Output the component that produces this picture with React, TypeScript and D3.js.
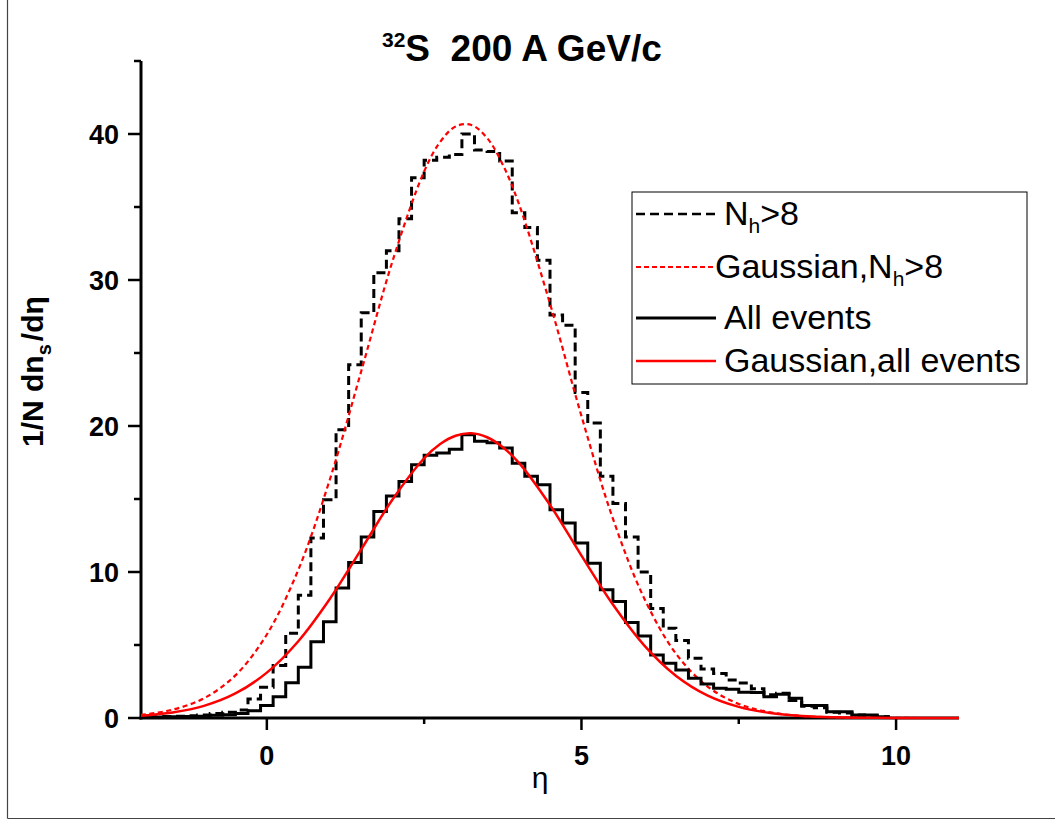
import React from 'react';
import * as d3 from 'd3';

// Histogram bins: left edge of first bin and bin width (eta units)
const binStart = -2.1;
const binWidth = 0.2;

// All events histogram (1/N dn_s/deta), bins centred at -2.0, -1.8, ..., 9.8
const allEvents = [
  0.04, 0.05, 0.06, 0.08, 0.1, 0.12, 0.18, 0.22, 0.3, 0.5,
  0.85, 1.46, 2.42, 3.48, 5.23, 6.6, 8.9, 10.65, 12.4, 14.15,
  15.2, 16.2, 17.35, 18.0, 18.15, 18.4, 19.4, 18.95, 18.85, 18.5,
  17.45, 16.55, 15.98, 14.27, 13.35, 11.98, 10.6, 8.78, 7.98, 6.54,
  5.62, 4.32, 3.75, 3.29, 2.72, 2.33, 2.04, 1.97, 1.76, 1.74,
  1.46, 1.62, 1.35, 0.85, 0.85, 0.43, 0.43, 0.2, 0.2, 0.08,
];

// N_h > 8 histogram, same bins
const nhGt8 = [
  0.07, 0.08, 0.1, 0.12, 0.15, 0.2, 0.3, 0.4, 0.55, 1.3,
  2.1, 3.6, 5.8, 8.4, 12.33, 14.95, 19.75, 24.2, 27.75, 30.5,
  32.0, 34.2, 37.0, 38.2, 38.4, 38.6, 40.0, 38.9, 38.8, 38.15,
  34.6, 33.6, 31.35, 27.6, 26.9, 22.3, 20.2, 16.55, 14.7, 12.4,
  10.0, 7.5, 6.15, 5.3, 4.1, 3.35, 3.05, 2.6, 2.4, 2.0,
  1.6, 1.7, 1.2, 0.8, 0.7, 0.4, 0.35, 0.2, 0.15, 0.08,
];

// Gaussian fit curves, read at these eta positions
const fitEta = [-2, -1.5, -1, -0.5, 0, 0.5, 1, 1.5, 2, 2.5, 2.75, 3, 3.25, 3.5, 3.75, 4, 4.5, 5, 5.5, 6, 6.5, 7, 7.5, 8, 8.5, 9, 9.5, 10, 10.5, 11];
const fitAll = [0.16, 0.38, 0.83, 1.68, 3.11, 5.26, 8.15, 11.55, 14.98, 17.79, 18.75, 19.33, 19.5, 19.23, 18.55, 17.51, 14.59, 11.12, 7.77, 4.96, 2.9, 1.55, 0.76, 0.34, 0.14, 0.05, 0.02, 0.006, 0.002, 0.0005];
const fitNh = [0.21, 0.57, 1.35, 2.92, 5.72, 10.15, 16.32, 23.75, 31.33, 37.44, 39.43, 40.52, 40.62, 39.73, 37.9, 35.28, 28.38, 20.68, 13.65, 8.17, 4.42, 2.17, 0.96, 0.39, 0.14, 0.05, 0.015, 0.004, 0.001, 0.0002];

const xMajorTicks = [0, 5, 10];
const xMinorTicks = [2.5, 7.5];
const yMajorTicks = [0, 10, 20, 30, 40];
const yMinorTicks = [5, 15, 25, 35, 45];

const W = 1055;
const H = 821;
const FONT = "'Liberation Sans', Arial, Helvetica, sans-serif";

export default function App() {
  const x = d3.scaleLinear().domain([-2, 11]).range([141, 959]);
  const y = d3.scaleLinear().domain([0, 45]).range([718, 61]);

  const stepPath = (vals: number[]) => {
    const pts: [number, number][] = vals.map((v, i) => [binStart + i * binWidth, v]);
    pts.push([binStart + vals.length * binWidth, vals[vals.length - 1]]);
    return d3
      .line<[number, number]>()
      .x((d) => x(d[0]))
      .y((d) => y(d[1]))
      .curve(d3.curveStepAfter)(pts) as string;
  };

  const fitPath = (vals: number[]) =>
    d3
      .line<number>()
      .x((_, i) => x(fitEta[i]))
      .y((d) => y(d))
      .curve(d3.curveCatmullRom.alpha(0.5))(vals) as string;

  const x0 = x(-2);
  const x1 = x(11);
  const y0 = y(0);
  const yTop = y(45);

  const legendItems = [
    { kind: 'nh', stroke: '#000', dash: '9,5', width: 2.5, textX: 724, lineY: 214, label: 'nh' },
    { kind: 'gnh', stroke: '#ff0000', dash: '5,3', width: 2, textX: 715, lineY: 267, label: 'gnh' },
    { kind: 'all', stroke: '#000', dash: undefined, width: 3, textX: 724, lineY: 318, label: 'All events' },
    { kind: 'gall', stroke: '#ff0000', dash: undefined, width: 2.5, textX: 724, lineY: 361, label: 'Gaussian,all events' },
  ];

  const LF = 34;

  return (
    <svg
      width={W}
      height={H}
      style={{ position: 'absolute', left: 0, top: 0, background: '#fff' }}
      fontFamily={FONT}
    >
      <defs>
        <clipPath id="plotClip">
          <rect x={x0} y={40} width={x1 - x0 + 2} height={y0 - 40 + 3} />
        </clipPath>
      </defs>
      <rect x={0} y={0} width={W} height={H} fill="#fff" />
      {/* outer frame (left and bottom visible) */}
      <line x1={7.5} y1={0} x2={7.5} y2={818.5} stroke="#444" strokeWidth={1.2} />
      <line x1={7.5} y1={818.5} x2={W} y2={818.5} stroke="#444" strokeWidth={1.2} />

      {/* title */}
      <text x={382} y={61} fontWeight="bold" fontSize={37} style={{ whiteSpace: 'pre' }} fill="#000">
        <tspan fontSize={21} dy={-14}>32</tspan>
        <tspan dy={14}>S  200 A GeV/c</tspan>
      </text>

      {/* axes */}
      <line x1={x0} y1={yTop} x2={x0} y2={y0 + 1.5} stroke="#000" strokeWidth={3} />
      <line x1={x0 - 1.5} y1={y0} x2={x1} y2={y0} stroke="#000" strokeWidth={3} />
      {yMajorTicks.map((t) => (
        <g key={'ym' + t}>
          <line x1={x0 - 13} x2={x0} y1={y(t)} y2={y(t)} stroke="#000" strokeWidth={2.5} />
          <text x={x0 - 22} y={y(t)} dy="0.36em" textAnchor="end" fontWeight="bold" fontSize={27}>
            {t}
          </text>
        </g>
      ))}
      {yMinorTicks.map((t) => (
        <line key={'yn' + t} x1={x0 - 7} x2={x0} y1={y(t)} y2={y(t)} stroke="#000" strokeWidth={2.5} />
      ))}
      {xMajorTicks.map((t) => (
        <g key={'xm' + t}>
          <line x1={x(t)} x2={x(t)} y1={y0} y2={y0 + 12} stroke="#000" strokeWidth={2.5} />
          <text x={x(t)} y={765} textAnchor="middle" fontWeight="bold" fontSize={27}>
            {t}
          </text>
        </g>
      ))}
      {xMinorTicks.map((t) => (
        <line key={'xn' + t} x1={x(t)} x2={x(t)} y1={y0} y2={y0 + 6} stroke="#000" strokeWidth={2.5} />
      ))}

      {/* axis titles */}
      <text x={540} y={788} textAnchor="middle" fontSize={30}>
        η
      </text>
      <text transform="translate(43,447) rotate(-90)" fontWeight="bold" fontSize={30}>
        1/N dn
        <tspan fontSize={20} dy={8}>s</tspan>
        <tspan dy={-8} dx={3}>/dη</tspan>
      </text>

      {/* data */}
      <g clipPath="url(#plotClip)" fill="none">
        <path d={stepPath(nhGt8)} stroke="#000" strokeWidth={3} strokeDasharray="9,5" />
        <path d={fitPath(fitNh)} stroke="#ff0000" strokeWidth={2.2} strokeDasharray="5,3.5" />
        <path d={stepPath(allEvents)} stroke="#000" strokeWidth={3} />
        <path d={fitPath(fitAll)} stroke="#ff0000" strokeWidth={2.5} />
      </g>

      {/* legend */}
      <rect x={632} y={192} width={395} height={192} fill="#fff" stroke="#000" strokeWidth={1} />
      {legendItems.map((it) => (
        <g key={it.kind}>
          <line
            x1={636}
            x2={it.kind === 'gnh' ? 715 : 716}
            y1={it.lineY}
            y2={it.lineY}
            stroke={it.stroke}
            strokeWidth={it.width}
            strokeDasharray={it.dash}
          />
          {it.kind === 'nh' && (
            <text x={it.textX} y={it.lineY + 11} fontSize={LF}>
              N<tspan fontSize={21} dy={8}>h</tspan>
              <tspan dy={-8}>&gt;8</tspan>
            </text>
          )}
          {it.kind === 'gnh' && (
            <text x={it.textX} y={it.lineY + 11} fontSize={LF}>
              Gaussian,N<tspan fontSize={21} dy={8}>h</tspan>
              <tspan dy={-8}>&gt;8</tspan>
            </text>
          )}
          {(it.kind === 'all' || it.kind === 'gall') && (
            <text x={it.textX} y={it.lineY + 11} fontSize={LF}>
              {it.label}
            </text>
          )}
        </g>
      ))}
    </svg>
  );
}
